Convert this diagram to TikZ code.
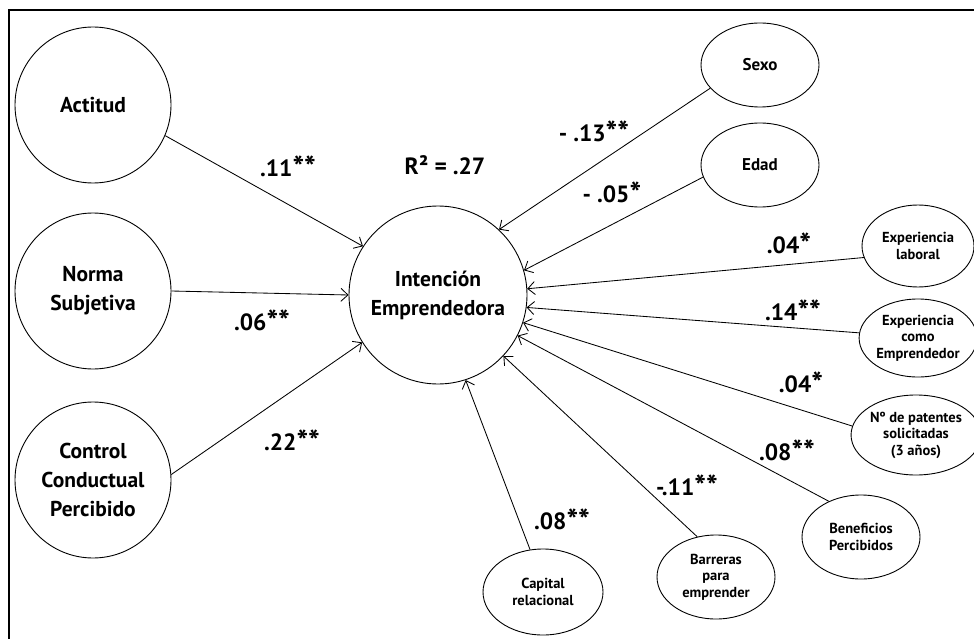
\documentclass[tikz,border=0pt]{standalone}
\usepackage{fontspec}
\setmainfont{PT Sans}
\usetikzlibrary{arrows.meta,shapes.geometric}
\newcommand{\bigtxt}{\fontsize{21.5}{29}\selectfont\bfseries}
\newcommand{\smalltxt}{\fontsize{14.5}{16.5}\selectfont\bfseries}
\newcommand{\coeftxt}{\fontsize{23.5}{26}\selectfont\bfseries}
% larger significance stars
\newcommand{\sig}{{\fontsize{31}{31}\selectfont\raisebox{-1.5pt}{*}}}
\begin{document}
\begin{tikzpicture}[x=1pt,y=-1pt,
  bigc/.style={circle,draw,line width=0.9pt,inner sep=0pt,align=center,font=\bigtxt},
  smalle/.style={ellipse,draw,line width=0.9pt,inner sep=0pt,align=center,font=\smalltxt},
  coef/.style={font=\coeftxt,inner sep=0pt},
  arr/.style={line width=0.85pt,-{Straight Barb[length=7pt,width=13pt,line width=0.85pt]}}]
\useasboundingbox (0,0) rectangle (974,639);
% outer frame (top and left rules)
\draw[line width=2.2pt] (9,639) -- (9,10) -- (975,10);

% predictors and outcome
\node[bigc,minimum size=156pt] (act) at (93,105) {Actitud};
\node[bigc,minimum size=156pt] (nor) at (93,291) {Norma\\Subjetiva};
\node[bigc,minimum size=156pt] (ctl) at (93,480) {Control\\Conductual\\Percibido};
\node[bigc,minimum size=178pt] (int) at (438,295) {Intención\\Emprendedora};

% control variables
\node[smalle,minimum width=118pt,minimum height=84pt,font=\fontsize{17}{19}\selectfont\bfseries] (sex) at (760,65) {Sexo};
\node[smalle,minimum width=118pt,minimum height=84pt,font=\fontsize{17}{19}\selectfont\bfseries] (eda) at (760,165) {Edad};
\node[smalle,minimum width=112pt,minimum height=82pt] (exl) at (918,246) {Experiencia\\laboral};
\node[smalle,minimum width=112pt,minimum height=78pt] (exe) at (918,338) {Experiencia\\como\\Emprendedor};
\node[smalle,minimum width=116pt,minimum height=80pt] (pat) at (916,435) {Nº de patentes\\solicitadas\\(3 años)};
\node[smalle,minimum width=118pt,minimum height=84pt] (ben) at (861,537) {Beneficios\\Percibidos};
\node[smalle,minimum width=118pt,minimum height=84pt] (bar) at (716,577) {Barreras\\para\\emprender};
\node[smalle,minimum width=120pt,minimum height=86pt] (cap) at (543,592) {Capital\\relacional};

% paths
\draw[arr] (act.-23) -- (int.147);
\draw[arr] (nor.0) -- (int.180);
\draw[arr] (ctl.4) -- (int.212);
\draw[arr] (sex.205) -- (int.47);
\draw[arr] (eda.192) -- (int.16);
\draw[arr] (exl.192) -- (int.4);
\draw[arr] (exe.175) -- (int.-8);
\draw[arr] (pat.172) -- (int.-18);
\draw[arr] (ben.132) -- (int.-27);
\draw[arr] (bar.115) -- (int.-43);
\draw[arr] (cap.107) -- (int.-72);

% coefficients
\node[coef] (r2) at (445,165) {R² = .27};
\node[coef] (c1) at (288,167) {.11\sig\sig};
\node[coef] (c2) at (262,321) {.06\sig\sig};
\node[coef] (c3) at (292,441) {.22\sig\sig};
\node[coef] (c4) at (594,132) {- .13\sig\sig};
\node[coef] (c5) at (612,193) {- .05\sig};
\node[coef] (c6) at (789,244) {.04\sig};
\node[coef] (c7) at (793,311) {.14\sig\sig};
\node[coef] (c8) at (801,383) {.04\sig};
\node[coef] (c9) at (787,451) {.08\sig\sig};
\node[coef] (c10) at (687,486) {-.11\sig\sig};
\node[coef] (c11) at (562,520) {.08\sig\sig};
\end{tikzpicture}
\end{document}
